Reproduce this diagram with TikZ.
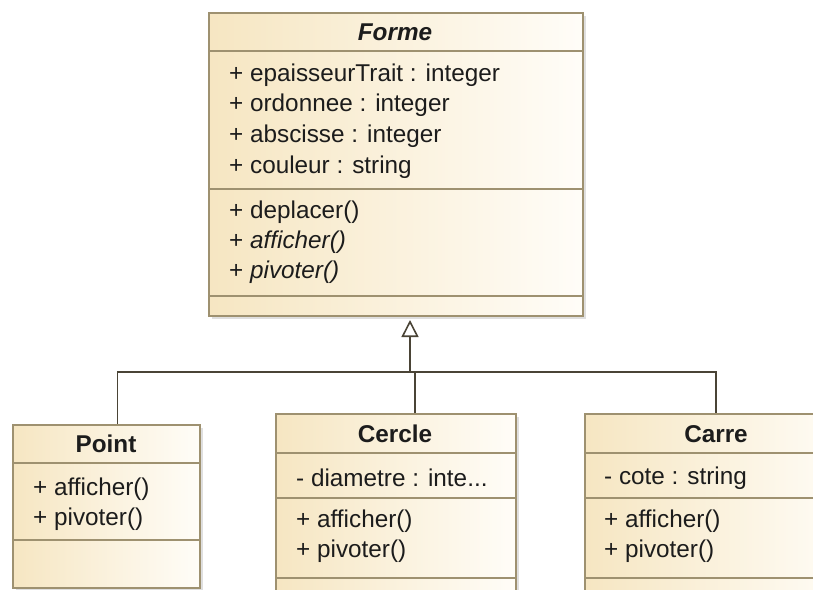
\documentclass[tikz,border=0pt]{standalone}
\usepackage{fontspec}
\setmainfont{Liberation Sans}
\usetikzlibrary{arrows.meta,shadows}
\definecolor{bordc}{HTML}{9E9170}
\definecolor{fillL}{HTML}{F6E6C2}
\definecolor{fillR}{HTML}{FFFDF8}
\definecolor{linec}{HTML}{4A4436}
\definecolor{txtc}{HTML}{1C1C1C}
\tikzset{
  cls/.style={draw=bordc, line width=2pt, rectangle, anchor=north west,
    left color=fillL, right color=fillR, inner sep=0pt,
    drop shadow={shadow xshift=2.5pt, shadow yshift=-2.5pt, opacity=0.25, fill=gray}},
  sep/.style={draw=bordc, line width=2pt},
  mem/.style={anchor=west, inner sep=0pt, text=txtc, font=\fontsize{24.3}{28}\selectfont},
  ttl/.style={anchor=center, inner sep=0pt, text=txtc, font=\fontsize{24.3}{28}\selectfont\bfseries},
  conn/.style={draw=linec, line width=1.8pt},
}
\begin{document}
\begin{tikzpicture}[x=1pt,y=-1pt]
\useasboundingbox (0,0) rectangle (813,589);
\clip (0,0) rectangle (813,589);
\fill[white] (0,0) rectangle (813,589);

% Forme
\node[cls, minimum width=374pt, minimum height=303pt] (forme) at (208,12) {};
\draw[sep] (208,51) -- (582,51);
\draw[sep] (208,189) -- (582,189);
\draw[sep] (208,296) -- (582,296);
\node[ttl, font=\fontsize{24.3}{28}\selectfont\bfseries\itshape] (formeT) at (395,32) {Forme};
\node[mem] (f1) at (229,75) {+ epaisseurTrait : integer};
\node[mem] (f2) at (229,105) {+ ordonnee : integer};
\node[mem] (f3) at (229,136) {+ abscisse : integer};
\node[mem] (f4) at (229,167) {+ couleur : string};
\node[mem] (f5) at (229,212) {+ deplacer()};
\node[mem] (f6) at (229,242) {+ \textit{afficher()}};
\node[mem] (f7) at (229,272) {+ \textit{pivoter()}};

% Point
\node[cls, minimum width=187pt, minimum height=163pt] (point) at (12,424) {};
\draw[sep] (12,463) -- (199,463);
\draw[sep] (12,540) -- (199,540);
\node[ttl] (pointT) at (106,444) {Point};
\node[mem] (p1) at (33,489) {+ afficher()};
\node[mem] (p2) at (33,519) {+ pivoter()};

% Cercle
\node[cls, minimum width=240pt, minimum height=220pt] (cercle) at (275,413) {};
\draw[sep] (275,453) -- (515,453);
\draw[sep] (275,498) -- (515,498);
\draw[sep] (275,578) -- (515,578);
\node[ttl] (cercleT) at (395,434) {Cercle};
\node[mem] (c1) at (296,478) {- diametre : inte...};
\node[mem] (c2) at (296,521) {+ afficher()};
\node[mem] (c3) at (296,551) {+ pivoter()};

% Carre
\node[cls, minimum width=264pt, minimum height=220pt] (carre) at (584,413) {};
\draw[sep] (584,453) -- (848,453);
\draw[sep] (584,498) -- (848,498);
\draw[sep] (584,578) -- (848,578);
\node[ttl] (carreT) at (716,434) {Carre};
\node[mem] (k1) at (604,478) {- cote : string};
\node[mem] (k2) at (604,521) {+ afficher()};
\node[mem] (k3) at (604,551) {+ pivoter()};

% Connectors
\coordinate (j) at (410,372);
\draw[conn] ([xshift=11pt]point.north) |- (j);
\draw[conn] (j) -| ([xshift=-1pt]carre.north);
\draw[conn] ([xshift=19pt]cercle.north) -- ([xshift=19pt]cercle.north |- j);
\draw[conn, -{Triangle[open, length=17pt, width=17pt, line width=1.6pt]}] (j) -- ([yshift=-3pt]forme.south -| j);
\end{tikzpicture}
\end{document}
